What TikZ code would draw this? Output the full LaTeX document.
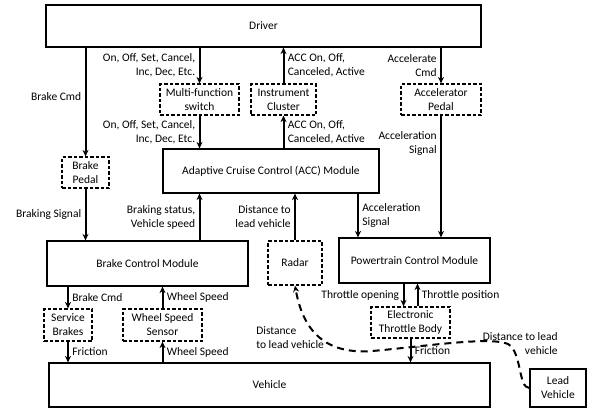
\documentclass[tikz,border=0pt]{standalone}
\usepackage{fontspec}
\setmainfont{Carlito}
\usetikzlibrary{arrows.meta,positioning}

\begin{document}
\begin{tikzpicture}[x=1pt,y=-1pt,->,>={Stealth[length=6.5pt,width=6pt]},line width=2pt,
    font=\fontsize{11.5}{14}\selectfont,
    block/.style={draw,line width=1.2pt,align=center,inner sep=0pt},
    dblock/.style={block,dash pattern=on 3.5pt off 2pt},
    lbl/.style={align=right},
    rlbl/.style={align=left}]
  \useasboundingbox (0,0) rectangle (593,412);

  % blocks
  \node[block,minimum width=435pt,minimum height=42pt] (driver) at (263.5,26) {Driver};
  \node[dblock,minimum width=79pt,minimum height=31pt] (mfs) at (199.5,99.5) {Multi-function\\switch};
  \node[dblock,minimum width=65pt,minimum height=31pt] (ic) at (283.5,99.5) {Instrument\\Cluster};
  \node[dblock,minimum width=80pt,minimum height=31pt] (ap) at (441,99.5) {Accelerator\\Pedal};
  \node[dblock,minimum width=47pt,minimum height=31pt] (bp) at (85.5,172.5) {Brake\\Pedal};
  \node[block,minimum width=216pt,minimum height=44pt] (acc) at (271,171) {Adaptive Cruise Control (ACC) Module};
  \node[block,minimum width=201pt,minimum height=45pt] (bcm) at (147.5,263.5) {Brake Control Module};
  \node[dblock,minimum width=54pt,minimum height=44pt] (radar) at (295,263) {Radar};
  \node[block,minimum width=151pt,minimum height=45pt] (pcm) at (414.5,260.5) {Powertrain Control Module};
  \node[dblock,minimum width=48pt,minimum height=32pt] (sb) at (68,325) {Service\\Brakes};
  \node[dblock,minimum width=79pt,minimum height=32pt] (wss) at (162.5,325) {Wheel Speed\\Sensor};
  \node[dblock,minimum width=79pt,minimum height=31pt] (etb) at (410.5,322.5) {Electronic\\Throttle Body};
  \node[block,minimum width=441pt,minimum height=44pt] (veh) at (269.5,385) {Vehicle};
  \node[block,minimum width=56pt,minimum height=38pt] (lead) at (558,388) {Lead\\Vehicle};
  \coordinate (a2p) at (358,0);

  % signals
  \draw (driver.south -| bp) -- node[left,pos=.45]{Brake Cmd} (bp);
  \draw (driver.south -| mfs) -- node[left,lbl]{On, Off, Set, Cancel,\\Inc, Dec, Etc.} (mfs);
  \draw (mfs) -- node[left,lbl]{On, Off, Set, Cancel,\\Inc, Dec, Etc.} (mfs |- acc.north);
  \draw (acc.north -| ic) -- node[right,rlbl]{ACC On, Off,\\Canceled, Active} (ic);
  \draw (ic) -- node[right,rlbl]{ACC On, Off,\\Canceled, Active} (ic |- driver.south);
  \draw (driver.south -| ap) -- node[left,lbl]{Accelerate\\Cmd} (ap);
  \draw (ap) -- node[left,lbl,pos=.23]{Acceleration\\Signal} (ap |- pcm.north);
  \draw (bp) -- node[left]{Braking Signal} (bp |- bcm.north);
  \draw (bcm.north -| mfs) -- node[left,lbl]{Braking status,\\Vehicle speed} (acc.south -| mfs);
  \draw (radar) -- node[left,lbl]{Distance to\\lead vehicle} (radar |- acc.south);
  \draw (acc.south -| a2p) -- node[right,rlbl]{Acceleration\\Signal} (pcm.north -| a2p);
  \draw (bcm.south -| sb) -- node[right]{Brake Cmd} (sb);
  \draw (sb) -- node[right]{Friction} (sb |- veh.north);
  \draw (wss) -- node[right]{Wheel Speed} (wss |- bcm.south);
  \draw (veh.north -| wss) -- node[right]{Wheel Speed} (wss);
  \draw ([xshift=-7pt]etb.north |- pcm.south) -- node[left]{Throttle opening} ([xshift=-7pt]etb.north);
  \draw ([xshift=7pt]etb.north) -- node[right]{Throttle position} ([xshift=7pt]etb.north |- pcm.south);
  \draw (etb) -- node[right]{Friction} (etb |- veh.north);

  % lead vehicle distance
  \draw[dash pattern=on 7pt off 5pt] (lead.west) .. controls (518,388) and (522,352) .. (508,344)
    .. controls (490,336) and (420,347) .. (372,351)
    .. controls (320,355) and (302,325) .. (radar.south);
  \node[lbl,anchor=east] (dlr) at (562,343.5) {Distance to lead\\vehicle};
  \node[rlbl,anchor=west] (dll) at (252,337.5) {Distance\\to lead vehicle};
\end{tikzpicture}
\end{document}
